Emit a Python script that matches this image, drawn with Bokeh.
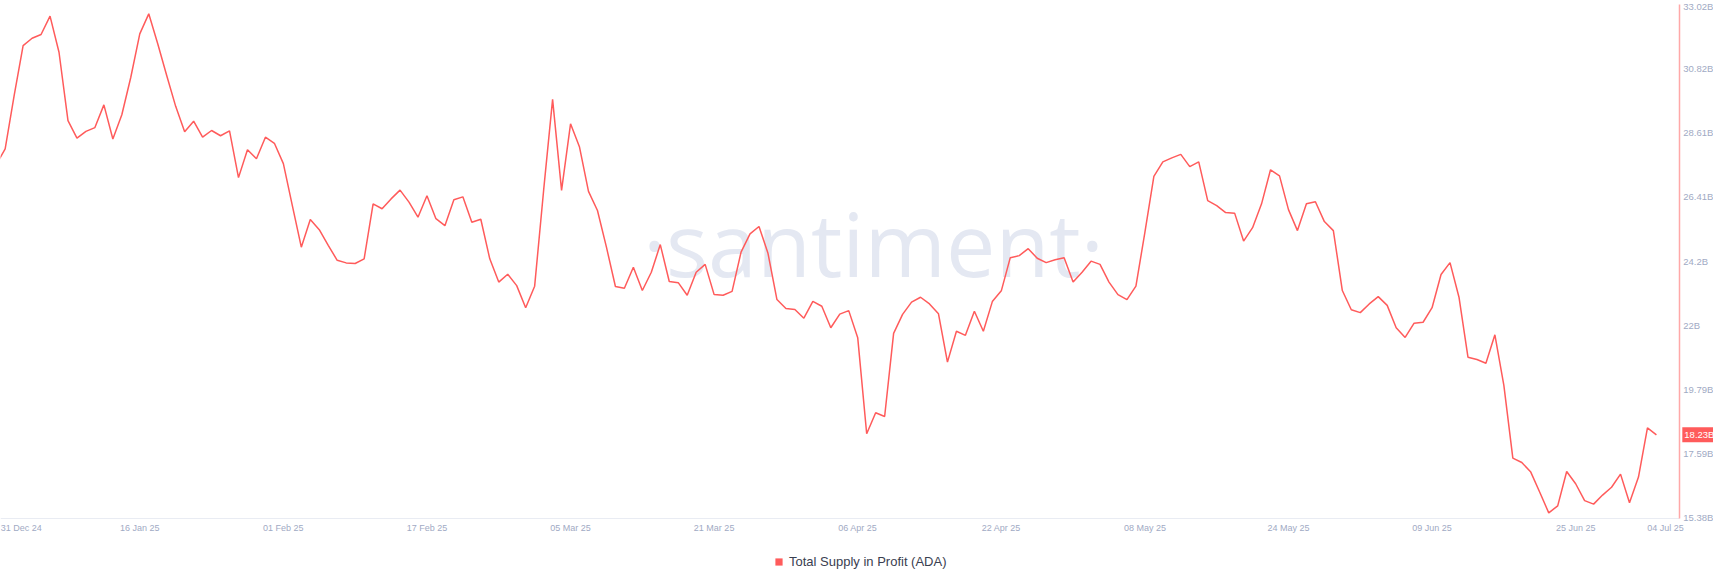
import datetime as dt
from bokeh.plotting import figure
from bokeh.models import (Range1d, FixedTicker, Label, Legend, LegendItem,
                          ColumnDataSource)
from bokeh.core.properties import value
from bokeh.embed import file_html
from bokeh.resources import INLINE

# ---------------- data ----------------
start_date = dt.date(2024, 12, 31)
series_name = "Total Supply in Profit (ADA)"
# daily values, billions of ADA, 31 Dec 2024 .. 04 Jul 2025
supply_b = [
    27.51, 28.06, 29.89, 31.61, 31.86, 31.99, 32.62, 31.38, 29.03, 28.43,
    28.66, 28.79, 29.57, 28.40, 29.23, 30.52, 32.01, 32.70, 31.67, 30.58,
    29.52, 28.65, 29.01, 28.46, 28.69, 28.51, 28.68, 27.07, 28.03, 27.72,
    28.46, 28.25, 27.55, 26.11, 24.68, 25.63, 25.28, 24.74, 24.23, 24.14,
    24.12, 24.28, 26.17, 26.00, 26.34, 26.64, 26.23, 25.71, 26.45, 25.66,
    25.42, 26.31, 26.41, 25.54, 25.64, 24.28, 23.48, 23.75, 23.36, 22.60,
    23.34, 26.63, 29.76, 26.63, 28.92, 28.12, 26.60, 25.94, 24.68, 23.33,
    23.27, 23.99, 23.19, 23.82, 24.77, 23.50, 23.46, 23.03, 23.82, 24.09,
    23.05, 23.03, 23.16, 24.51, 25.14, 25.39, 24.47, 22.88, 22.57, 22.54,
    22.24, 22.82, 22.65, 21.91, 22.38, 22.50, 21.57, 18.27, 18.99, 18.86,
    21.72, 22.37, 22.79, 22.96, 22.73, 22.39, 20.73, 21.79, 21.65, 22.48,
    21.79, 22.81, 23.18, 24.32, 24.39, 24.63, 24.30, 24.15, 24.25, 24.32,
    23.48, 23.82, 24.20, 24.09, 23.48, 23.05, 22.88, 23.34, 25.19, 27.11,
    27.61, 27.75, 27.87, 27.45, 27.61, 26.28, 26.11, 25.87, 25.85, 24.89,
    25.35, 26.17, 27.34, 27.13, 25.97, 25.25, 26.17, 26.24, 25.56, 25.25,
    23.19, 22.53, 22.43, 22.73, 22.98, 22.68, 21.91, 21.58, 22.07, 22.10,
    22.60, 23.74, 24.15, 22.96, 20.90, 20.82, 20.69, 21.67, 19.93, 17.43,
    17.28, 16.95, 16.26, 15.55, 15.79, 16.97, 16.55, 15.97, 15.85, 16.16,
    16.43, 16.88, 15.90, 16.78, 18.47, 18.23,
]

y_tick_values = [15.38, 17.59, 19.79, 22.0, 24.2, 26.41, 28.61, 30.82, 33.02]
y_tick_labels = ["15.38B", "17.59B", "19.79B", "22B", "24.2B", "26.41B",
                 "28.61B", "30.82B", "33.02B"]

x_tick_dates = [dt.date(2024, 12, 31), dt.date(2025, 1, 16), dt.date(2025, 2, 1),
                dt.date(2025, 2, 17), dt.date(2025, 3, 5), dt.date(2025, 3, 21),
                dt.date(2025, 4, 6), dt.date(2025, 4, 22), dt.date(2025, 5, 8),
                dt.date(2025, 5, 24), dt.date(2025, 6, 9), dt.date(2025, 6, 25),
                dt.date(2025, 7, 4)]
x_tick_labels = ["31 Dec 24", "16 Jan 25", "01 Feb 25", "17 Feb 25", "05 Mar 25",
                 "21 Mar 25", "06 Apr 25", "22 Apr 25", "08 May 25", "24 May 25",
                 "09 Jun 25", "25 Jun 25", "04 Jul 25"]

# ---------------- layout constants ----------------
RED = "#ff5b5b"
LABEL_COLOR = "#9faac4"
AXIS_FONT = "Liberation Sans"
origin = dt.date(2025, 1, 1)
X_START, X_END = -0.520, 190.36    # days since 1 Jan 2025 across the canvas
X_AXIS = 186.55                    # where the value axis sits
Y_START, Y_END = 13.431, 33.158    # billions across the canvas height
Y_BASE = 15.356                    # where the time axis sits

def day_index(d):
    return (d - origin).days

xs = [day_index(start_date + dt.timedelta(days=i)) for i in range(len(supply_b))]
src = ColumnDataSource(dict(x=xs, y=supply_b))

p = figure(width=1713, height=574, output_backend="svg", toolbar_location=None,
           x_range=Range1d(X_START, X_END), y_range=Range1d(Y_START, Y_END),
           y_axis_location="right", min_border_left=0, min_border_top=0,
           min_border_right=0, min_border_bottom=0)
p.outline_line_color = None
p.grid.visible = False
p.background_fill_color = "white"
p.border_fill_color = "white"

# watermark
p.add_layout(Label(x=96.75, y=24.82, text="\u00b7santiment\u00b7",
                   text_font="Open Sans", text_font_size="88px",
                   text_color="#e4e8f2", text_align="center",
                   text_baseline="alphabetic", level="underlay"))

line = p.line("x", "y", source=src, line_color=RED, line_width=1.5)

# x axis: edge labels pinned inside the visible span
x_pos = [float(day_index(d)) for d in x_tick_dates]
x_pos[0] = max(x_pos[0], X_START + 2.31)
x_pos[-1] = X_AXIS - 1.55
xa = p.xaxis[0]
xa.fixed_location = Y_BASE
xa.bounds = (X_START, X_AXIS)
xa.ticker = FixedTicker(ticks=x_pos)
xa.major_label_overrides = {k: v for k, v in zip(x_pos, x_tick_labels)}
xa.axis_line_color = "#e9ecf3"
xa.axis_line_width = 1
xa.major_tick_line_color = None
xa.minor_tick_line_color = None
xa.major_tick_out = 0
xa.major_tick_in = 0
xa.major_label_text_font = AXIS_FONT
xa.major_label_text_font_size = "9px"
xa.major_label_text_color = LABEL_COLOR
xa.major_label_standoff = 5

ya = p.yaxis[0]
ya.fixed_location = X_AXIS
ya.bounds = (Y_BASE, y_tick_values[-1])
ya.ticker = FixedTicker(ticks=y_tick_values)
ya.major_label_overrides = {t: l for t, l in zip(y_tick_values, y_tick_labels)}
ya.axis_line_color = "#ffa8a8"
ya.axis_line_width = 1.5
ya.major_tick_line_color = None
ya.minor_tick_line_color = None
ya.major_tick_out = 0
ya.major_tick_in = 0
ya.major_label_text_font = AXIS_FONT
ya.major_label_text_font_size = "9.5px"
ya.major_label_text_color = LABEL_COLOR
ya.major_label_standoff = 4

# last value badge
p.add_layout(Label(x=X_AXIS, y=supply_b[-1], x_offset=3,
                   text="%.2fB" % supply_b[-1], text_font=AXIS_FONT,
                   text_font_size="9.5px", text_color="white",
                   background_fill_color=RED, padding=2,
                   text_align="left", text_baseline="middle"))

# legend (swatch renderer has zero size at the last point)
swatch = p.quad(left=[xs[-1]], right=[xs[-1]], top=[supply_b[-1]],
                bottom=[supply_b[-1]], fill_color=RED, line_color=None)
legend = Legend(items=[LegendItem(label=value(series_name), renderers=[swatch])],
                location=(774, 5), orientation="horizontal", padding=0, margin=0,
                glyph_width=9, glyph_height=9, label_standoff=6, label_height=14,
                label_text_font=AXIS_FONT, label_text_font_size="13px",
                label_text_color="#3a4050", background_fill_alpha=0,
                border_line_alpha=0)
p.add_layout(legend, "center")

open("out.html", "w").write(file_html(p, INLINE))
